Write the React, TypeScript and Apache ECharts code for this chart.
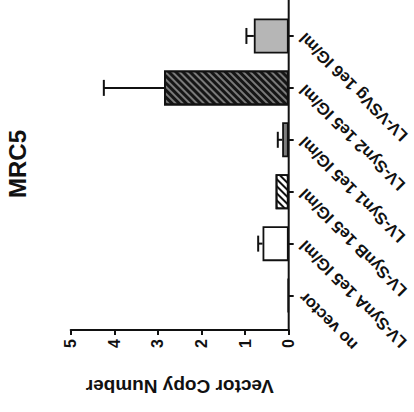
import React, { useEffect, useRef } from 'react';
import * as echarts from 'echarts';

const categories = [
  'no vector',
  'LV-SynA 1e5 IG/ml',
  'LV-SynB 1e5 IG/ml',
  'LV-Syn1 1e5 IG/ml',
  'LV-Syn2 1e5 IG/ml',
  'LV-VSVg 1e6 IG/ml',
];
const copyNumber = [0.02, 0.6, 0.3, 0.15, 2.86, 0.8];
const errorSD = [0, 0.1, 0, 0.1, 1.38, 0.17];
const valueTicks = [0, 1, 2, 3, 4, 5];
const chartTitle = 'MRC5';
const valueAxisName = 'Vector Copy Number';

const FONT = "'Liberation Sans', Arial, Helvetica, sans-serif";
const INK = '#111111';

const hatch = (line: number, gap: number, color: string) => ({
  symbol: 'rect',
  symbolSize: 1,
  dashArrayX: [1, 0],
  dashArrayY: [line, gap],
  rotation: Math.PI / 4,
  color,
});

const barStyles: any[] = [
  { color: '#ffffff' },
  { color: '#ffffff' },
  { color: '#ffffff', decal: hatch(1.8, 2.4, '#111') },
  { color: '#7c7c7c' },
  { color: '#7a7a7a', decal: hatch(2.1, 1.9, '#151515') },
  { color: '#b6b6b6' },
];

export default function App() {
  const ref = useRef<HTMLDivElement>(null);
  useEffect(() => {
    if (!ref.current) return;
    const chart = echarts.init(ref.current, undefined, { renderer: 'svg' });
    const gridLeft = 70.7;
    const gridRight = 414 - 288.7;
    const gridTop = 10;
    const gridBottom = 412 - 321.5;
    chart.setOption({
      animation: false,
      textStyle: { fontFamily: FONT },
      grid: {
        left: gridLeft,
        right: gridRight,
        top: gridTop,
        bottom: gridBottom,
        containLabel: false,
        outerBoundsMode: 'none',
      },
      xAxis: {
        type: 'value',
        min: valueTicks[0],
        max: valueTicks[valueTicks.length - 1],
        interval: 1,
        inverse: true,
        position: 'bottom',
        offset: 8.5,
        splitLine: { show: false },
        axisLine: { show: true, lineStyle: { color: INK, width: 2 } },
        axisTick: { show: true, length: 5, lineStyle: { color: INK, width: 2 } },
        axisLabel: {
          rotate: 90,
          margin: 9,
          fontSize: 16,
          fontWeight: 'bold',
          color: INK,
          fontFamily: FONT,
        },
        name: valueAxisName,
        nameLocation: 'middle',
        nameRotate: 180,
        nameGap: 47,
        nameTextStyle: { fontSize: 19, fontWeight: 'bold', color: INK, fontFamily: FONT },
      },
      yAxis: {
        type: 'category',
        data: categories,
        position: 'right',
        axisLine: { show: false },
        axisTick: { show: true, alignWithLabel: true, length: 5, lineStyle: { color: INK, width: 2 } },
        axisLabel: {
          interval: 0,
          rotate: 135,
          margin: 13,
          fontSize: 16.5,
          fontWeight: 'bold',
          color: INK,
          fontFamily: FONT,
        },
        splitLine: { show: false },
      },
      graphic: [
        {
          type: 'line',
          shape: { x1: 288.7, y1: 0, x2: 288.7, y2: 331 },
          style: { stroke: INK, lineWidth: 2 },
          z: 100,
        },
        {
          type: 'text',
          x: 17,
          y: 164,
          rotation: Math.PI / 2,
          style: {
            text: chartTitle,
            fontSize: 24,
            fontWeight: 'bold',
            fontFamily: FONT,
            fill: INK,
            align: 'center',
            verticalAlign: 'middle',
          },
        },
      ],
      series: [
        {
          type: 'bar',
          barWidth: 35,
          data: copyNumber.map((v, i) => ({
            value: v,
            itemStyle: {
              color: barStyles[i].color,
              decal: barStyles[i].decal,
              borderColor: INK,
              borderWidth: 1.8,
            },
          })),
          z: 2,
        },
        {
          type: 'custom',
          z: 3,
          encode: { x: 0, y: 1 },
          data: categories.map((_, i) => [copyNumber[i], i, errorSD[i]]),
          renderItem: (params: any, api: any) => {
            const v = api.value(0);
            const c = api.value(1);
            const e = api.value(2);
            if (!e) return null;
            const p0 = api.coord([v, c]);
            const p1 = api.coord([v + e, c]);
            return {
              type: 'group',
              children: [
                {
                  type: 'line',
                  shape: { x1: p0[0], y1: p0[1], x2: p1[0], y2: p1[1] },
                  style: { stroke: INK, lineWidth: 2 },
                },
                {
                  type: 'line',
                  shape: { x1: p1[0], y1: p1[1] - 8, x2: p1[0], y2: p1[1] + 8 },
                  style: { stroke: INK, lineWidth: 2 },
                },
              ],
            };
          },
        },
      ],
    });
    return () => chart.dispose();
  }, []);
  return (
    <div
      ref={ref}
      style={{ position: 'fixed', left: 0, top: 0, width: 414, height: 412, background: '#fff' }}
    />
  );
}
